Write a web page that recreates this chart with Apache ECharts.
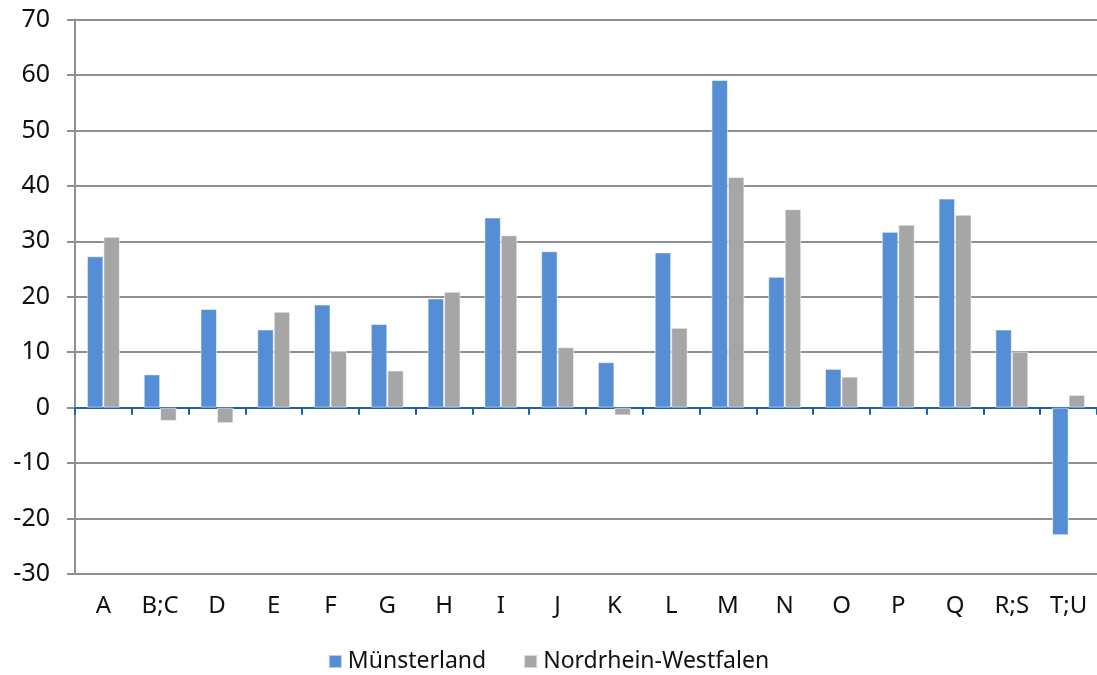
<!DOCTYPE html>
<html>
<head>
<meta charset="utf-8">
<script src="https://cdn.jsdelivr.net/npm/echarts@6/dist/echarts.min.js"></script>
<style>
  html, body { margin: 0; padding: 0; background: #fff; }
  #chart { width: 1097px; height: 675px; }
</style>
</head>
<body>
<div id="chart"></div>
<script>
// Economic sections (WZ 2008) and percentage change per region
const categories = ['A', 'B;C', 'D', 'E', 'F', 'G', 'H', 'I', 'J', 'K', 'L', 'M', 'N', 'O', 'P', 'Q', 'R;S', 'T;U'];
const muensterland = [27.3, 6.0, 17.8, 14.1, 18.6, 15.1, 19.7, 34.3, 28.2, 8.2, 28.0, 59.1, 23.6, 7.0, 31.7, 37.7, 14.1, -23.0];
const nrw = [30.8, -2.4, -2.8, 17.3, 10.2, 6.7, 20.9, 31.1, 10.9, -1.4, 14.4, 41.6, 35.8, 5.6, 33.0, 34.8, 10.1, 2.3];
const seriesNames = ['Münsterland', 'Nordrhein-Westfalen'];
const yTicks = { min: -30, max: 70, interval: 10 };

const FONT = 'Noto Sans';
const chart = echarts.init(document.getElementById('chart'), null, { renderer: 'canvas' });

chart.setOption({
  animation: false,
  backgroundColor: '#ffffff',
  textStyle: { fontFamily: FONT },
  grid: { left: 75, right: -6, top: 19.5, bottom: 101, containLabel: false },
  legend: {
    data: seriesNames,
    bottom: -3,
    left: 'center',
    itemWidth: 13,
    itemHeight: 13,
    itemGap: 37,
    icon: 'rect',
    textStyle: { fontFamily: FONT, fontSize: 23, color: '#111', padding: [0, 0, 0, 1] }
  },
  xAxis: [
    {
      // labels along the bottom edge
      type: 'category',
      data: categories,
      position: 'bottom',
      axisLine: { show: false, onZero: false },
      axisTick: { show: false },
      axisLabel: { fontFamily: FONT, fontSize: 24, color: '#111', margin: 20 },
      splitLine: { show: false }
    },
    {
      // zero baseline with category boundary ticks
      type: 'category',
      data: categories,
      position: 'bottom',
      axisLine: { show: true, onZero: true, lineStyle: { color: '#1f5fb0', width: 2 } },
      axisTick: { show: true, inside: false, length: 7, lineStyle: { color: '#1f5fb0', width: 2 } },
      axisLabel: { show: false },
      splitLine: { show: false }
    }
  ],
  yAxis: {
    type: 'value',
    min: yTicks.min,
    max: yTicks.max,
    interval: yTicks.interval,
    axisLine: { show: true, lineStyle: { color: '#8f8f8f', width: 2 } },
    axisTick: { show: true, length: 8, lineStyle: { color: '#8f8f8f', width: 2 } },
    axisLabel: { fontFamily: FONT, fontSize: 25, color: '#111', margin: 25 },
    splitLine: { show: true, lineStyle: { color: '#8f8f8f', width: 2 } }
  },
  series: [
    {
      name: seriesNames[0],
      type: 'bar',
      xAxisIndex: 0,
      data: muensterland,
      barGap: '0%',
      barCategoryGap: '42%',
      itemStyle: { color: '#558ed5', borderColor: 'rgba(255,255,255,0.55)', borderWidth: 1 }
    },
    {
      name: seriesNames[1],
      type: 'bar',
      xAxisIndex: 0,
      data: nrw,
      barGap: '0%',
      barCategoryGap: '42%',
      itemStyle: { color: '#a6a6a6', borderColor: 'rgba(255,255,255,0.55)', borderWidth: 1 }
    }
  ]
});
</script>
</body>
</html>
